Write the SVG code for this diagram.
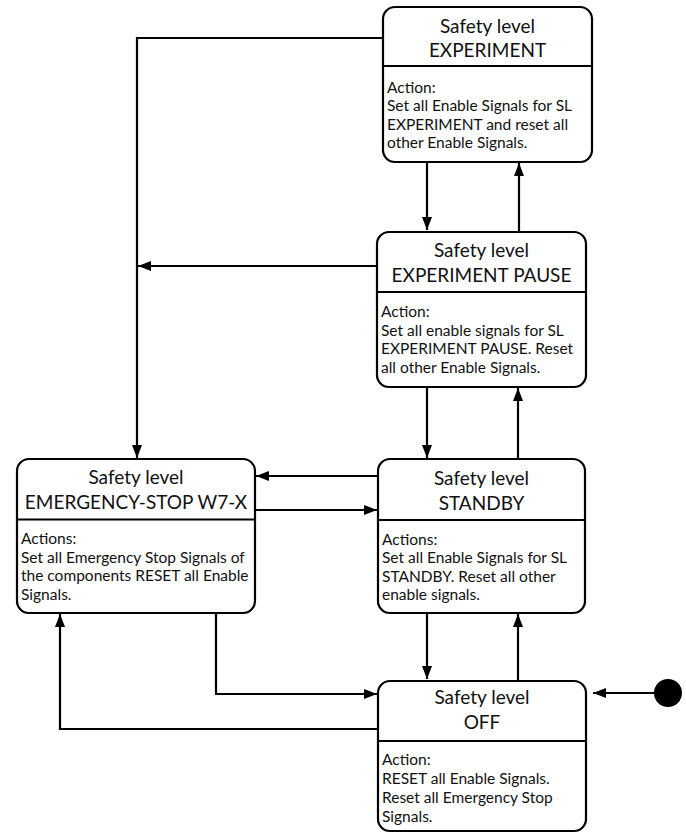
<svg xmlns="http://www.w3.org/2000/svg" width="686" height="833" viewBox="0 0 686 833">
  <defs>
    <marker id="arrow" markerUnits="userSpaceOnUse" markerWidth="14" markerHeight="11" refX="13" refY="5" orient="auto">
      <path d="M0,0 L13,5 L0,10 z" fill="#000"/>
    </marker>
    <style>
      .box { fill: #fff; stroke: #000; stroke-width: 2.2; }
      .div { stroke: #000; stroke-width: 2.2; }
      .title { font-family: Lato, "Liberation Sans", sans-serif; font-size: 19px; fill: #111; text-anchor: middle; }
      .body { font-family: Lato, "Liberation Sans", sans-serif; font-size: 15.5px; fill: #111; }
      .conn { fill: none; stroke: #000; stroke-width: 2.2; }
      .arr { marker-end: url(#arrow); }
    </style>
  </defs>
  <rect width="686" height="833" fill="#fff"/>

  <!-- transitions -->
  <g id="connectors">
    <path class="conn arr" d="M383,38 H137 V458"/>
    <path class="conn arr" d="M377,266 H138"/>
    <path class="conn arr" d="M427,162 V230"/>
    <path class="conn arr" d="M519,231 V163"/>
    <path class="conn arr" d="M427,387 V458"/>
    <path class="conn arr" d="M518,459 V388"/>
    <path class="conn arr" d="M378,476 H256"/>
    <path class="conn arr" d="M255,510 H377"/>
    <path class="conn arr" d="M427,613 V679"/>
    <path class="conn arr" d="M518,680 V614"/>
    <path class="conn arr" d="M216,613 V694 H377"/>
    <path class="conn arr" d="M378,729 H60 V614"/>
    <path class="conn arr" d="M655,693 H593"/>
  </g>

  <!-- initial state -->
  <g id="initial">
    <circle cx="668" cy="693" r="14" fill="#000"/>
  </g>

  <g id="sl-experiment">
    <rect class="box" x="383" y="7" width="209" height="155" rx="12"/>
    <line class="div" x1="383" y1="66" x2="592" y2="66"/>
    <text class="title" x="487.5" y="33">Safety level</text>
    <text class="title" x="487.5" y="57">EXPERIMENT</text>
    <text class="body" x="387" y="92.5">Action:</text>
    <text class="body" x="387" y="111">Set all Enable Signals for SL</text>
    <text class="body" x="387" y="129.5">EXPERIMENT and reset all</text>
    <text class="body" x="387" y="148">other Enable Signals.</text>
  </g>

  <g id="sl-experiment-pause">
    <rect class="box" x="377" y="232" width="209" height="155" rx="12"/>
    <line class="div" x1="377" y1="292" x2="586" y2="292"/>
    <text class="title" x="481.5" y="257">Safety level</text>
    <text class="title" x="481.5" y="282">EXPERIMENT PAUSE</text>
    <text class="body" x="381" y="317">Action:</text>
    <text class="body" x="381" y="335.5">Set all enable signals for SL</text>
    <text class="body" x="381" y="354">EXPERIMENT PAUSE. Reset</text>
    <text class="body" x="381" y="372.5">all other Enable Signals.</text>
  </g>

  <g id="sl-emergency-stop">
    <rect class="box" x="17" y="459" width="238" height="154" rx="12"/>
    <line class="div" x1="17" y1="519.5" x2="255" y2="519.5"/>
    <text class="title" x="136" y="484">Safety level</text>
    <text class="title" x="136" y="509">EMERGENCY-STOP W7-X</text>
    <text class="body" x="21" y="544">Actions:</text>
    <text class="body" x="21" y="562.5">Set all Emergency Stop Signals of</text>
    <text class="body" x="21" y="581">the components RESET all Enable</text>
    <text class="body" x="21" y="599.5">Signals.</text>
  </g>

  <g id="sl-standby">
    <rect class="box" x="378" y="459" width="207" height="154" rx="12"/>
    <line class="div" x1="378" y1="520" x2="585" y2="520"/>
    <text class="title" x="481.5" y="485">Safety level</text>
    <text class="title" x="481.5" y="510">STANDBY</text>
    <text class="body" x="382" y="544.5">Actions:</text>
    <text class="body" x="382" y="563">Set all Enable Signals for SL</text>
    <text class="body" x="382" y="581.5">STANDBY. Reset all other</text>
    <text class="body" x="382" y="600">enable signals.</text>
  </g>

  <g id="sl-off">
    <rect class="box" x="378" y="681" width="208" height="150" rx="12"/>
    <line class="div" x1="378" y1="741" x2="586" y2="741"/>
    <text class="title" x="482" y="704">Safety level</text>
    <text class="title" x="482" y="729">OFF</text>
    <text class="body" x="382" y="765">Action:</text>
    <text class="body" x="382" y="784">RESET all Enable Signals.</text>
    <text class="body" x="382" y="803">Reset all Emergency Stop</text>
    <text class="body" x="382" y="822">Signals.</text>
  </g>
</svg>
